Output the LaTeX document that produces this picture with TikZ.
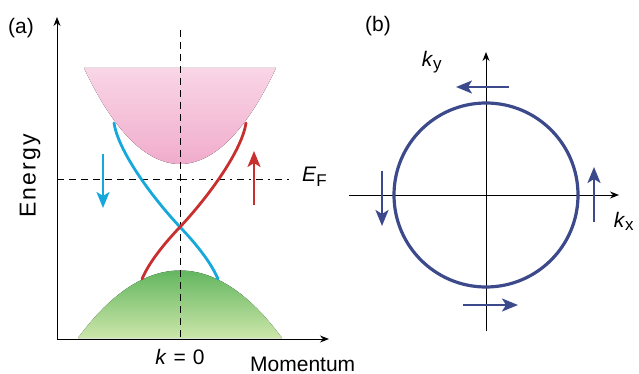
\documentclass[tikz,border=0pt]{standalone}
\usepackage{fontspec}
\setmainfont{Liberation Sans}
\usepackage{tikz}
\usetikzlibrary{arrows.meta,positioning,calc}
\definecolor{bandpinktop}{RGB}{249, 214, 230}
\definecolor{bandpinkbot}{RGB}{238, 158, 196}
\definecolor{bandgreentop}{RGB}{64, 166, 70}
\definecolor{bandgreenbot}{RGB}{204, 230, 170}
\definecolor{spinblue}{RGB}{22, 168, 218}
\definecolor{spinred}{RGB}{200, 48, 48}
\definecolor{fermiblue}{RGB}{60, 74, 140}

\begin{document}
\begin{tikzpicture}[
        x=1pt, y=-1pt,
        ax/.style={line width=1pt, -{Stealth[length=9pt, width=7pt]}},
        guide/.style={line width=0.9pt, dash pattern=on 7pt off 5pt},
        guidedot/.style={line width=0.9pt, dash pattern=on 7pt off 5pt on 2pt off 5pt},
        band/.style={line width=2.8pt},
        spin/.style={line width=2.4pt, -{Stealth[length=16pt, width=13pt, inset=4pt]}},
        lbl/.style={inner sep=0pt, font=\fontsize{21}{24}\selectfont}
    ]
        \useasboundingbox (0,0) rectangle (639,374);

        % (a) axes and guides
        \coordinate (oA) at (57,339);
        \coordinate (eTop) at (57,17);
        \coordinate (kEnd) at (329,339);
        \coordinate (kTop) at (180,30);
        \coordinate (kBot) at (180,339);
        \coordinate (fLeft) at (57,179);
        \coordinate (fMid) at (180,179);
        \coordinate (fRight) at (291,179);

        % Bands
        \fill[top color=bandpinktop, bottom color=bandpinkbot]
            (84,68) .. controls (144,196) and (216,196) .. (276,68) -- cycle;
        \fill[top color=bandgreentop, bottom color=bandgreenbot]
            (78,338) .. controls (144,248) and (216,248) .. (282,338) -- cycle;

        \draw[guide] (kTop) -- (kBot);
        \draw[guide] (fLeft) -- (fMid);
        \draw[guidedot] (fMid) -- (fRight);

        % Surface states
        \draw[band, spinblue, line cap=round]
            (114,123) .. controls (118,150) and (150,195) .. (180,227)
            .. controls (200,248) and (212,265) .. (218,279);
        \draw[band, spinred, line cap=round]
            (246,123) .. controls (242,150) and (210,195) .. (180,227)
            .. controls (160,248) and (148,265) .. (142,279);

        \coordinate (sbTail) at (103,154);
        \coordinate (sbTip) at (103,208);
        \coordinate (srTail) at (254,205);
        \coordinate (srTip) at (254,151);
        \draw[spin, spinblue] (sbTail) -- (sbTip);
        \draw[spin, spinred] (srTail) -- (srTip);

        \draw[ax] (oA) -- (eTop);
        \draw[ax] (oA) -- (kEnd);

        % Labels (a)
        \node[lbl] (labA) at (21,28) {(a)};
        \node[lbl, rotate=90, font=\fontsize{23}{26}\selectfont\addfontfeature{LetterSpace=9}] (lEnergy) at (30,176) {Energy};
        \node[lbl] (lKzero) at (180,357) {\textit{k}\hspace{7pt}=\hspace{7pt}0};
        \node[lbl, anchor=west] (lMom) at (250,364) {Momentum};
        \node[lbl, anchor=west] (lEF) at (302,177) {\textit{E}\textsubscript{\fontsize{17}{20}\selectfont F}};

        % (b) Fermi circle
        \coordinate (cB) at (486,195);
        \coordinate (kxStart) at (349,195);
        \coordinate (kxEnd) at (619,195);
        \coordinate (kyStart) at (486,331);
        \coordinate (kyEnd) at (486,52);
        \draw[ax] (kxStart) -- (kxEnd);
        \draw[ax] (kyStart) -- (kyEnd);
        \draw[line width=3.2pt, fermiblue] (cB) circle[radius=92];

        \coordinate (tTail) at (509,87);
        \coordinate (tTip) at (456,87);
        \coordinate (bTail) at (463,305);
        \coordinate (bTip) at (518,305);
        \coordinate (lTail) at (382,171);
        \coordinate (lTip) at (382,226);
        \coordinate (rTail) at (594,222);
        \coordinate (rTip) at (594,167);
        \draw[spin, fermiblue] (tTail) -- (tTip);
        \draw[spin, fermiblue] (bTail) -- (bTip);
        \draw[spin, fermiblue] (lTail) -- (lTip);
        \draw[spin, fermiblue] (rTail) -- (rTip);

        % Labels (b)
        \node[lbl] (labB) at (378,26) {(b)};
        \node[lbl] (lKy) at (432,62) {\textit{k}\textsubscript{\fontsize{17}{20}\selectfont y}};
        \node[lbl] (lKx) at (624,221) {\textit{k}\textsubscript{\fontsize{17}{20}\selectfont x}};
    \end{tikzpicture}
\end{document}
